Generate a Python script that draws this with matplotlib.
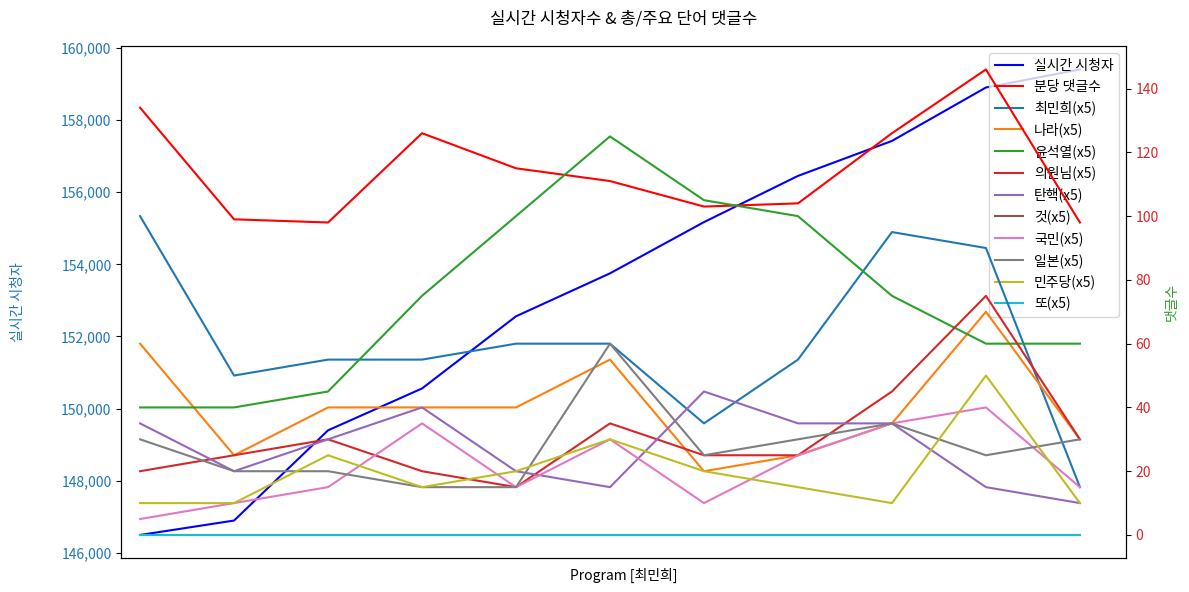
#!/usr/bin/env python3
import matplotlib
matplotlib.use("Agg")
import matplotlib.pyplot as plt
import matplotlib.ticker as mticker

plt.rcParams["font.family"] = ["Noto Sans CJK KR", "DejaVu Sans"]
plt.rcParams["axes.unicode_minus"] = False

# minute index (x ticks are hidden in the original)
minutes = list(range(11))

viewers = [146500, 146900, 149400, 150560, 152560, 153750, 155170, 156450, 157420, 158900, 159400]
comments_per_min = [134, 99, 98, 126, 115, 111, 103, 104, 126, 146, 98]

# keyword counts, already multiplied by 5
keywords = {
    "최민희": [100, 50, 55, 55, 60, 60, 35, 55, 95, 90, 15],
    "나라": [60, 25, 40, 40, 40, 55, 20, 25, 35, 70, 30],
    "윤석열": [40, 40, 45, 75, 100, 125, 105, 100, 75, 60, 60],
    "의원님": [20, 25, 30, 20, 15, 35, 25, 25, 45, 75, 30],
    "탄핵": [35, 20, 30, 40, 20, 15, 45, 35, 35, 15, 10],
    "것": [0, 0, 0, 0, 0, 0, 0, 0, 0, 0, 0],
    "국민": [5, 10, 15, 35, 15, 30, 10, 25, 35, 40, 15],
    "일본": [30, 20, 20, 15, 15, 60, 25, 30, 35, 25, 30],
    "민주당": [10, 10, 25, 15, 20, 30, 20, 15, 10, 50, 10],
    "또": [0, 0, 0, 0, 0, 0, 0, 0, 0, 0, 0],
}
keyword_colors = ["tab:blue", "tab:orange", "tab:green", "tab:red", "tab:purple",
                  "tab:brown", "tab:pink", "tab:gray", "tab:olive", "tab:cyan"]


def main():
    fig, ax1 = plt.subplots(figsize=(11.89, 5.92), dpi=100)
    ax2 = ax1.twinx()

    ax1.plot(minutes, viewers, color="blue", label="실시간 시청자")
    ax2.plot(minutes, comments_per_min, color="red", label="분당 댓글수")
    for (word, counts), c in zip(keywords.items(), keyword_colors):
        ax2.plot(minutes, counts, color=c, label=f"{word}(x5)")

    ax1.set_xlim(-0.2, 10.49)
    ax1.set_xticks([])
    ax1.set_xlabel("Program [최민희]", labelpad=7)

    ax1.set_ylabel("실시간 시청자", color="tab:blue", labelpad=26)
    ax1.tick_params(axis="y", labelcolor="tab:blue")
    ax1.yaxis.set_major_formatter(mticker.StrMethodFormatter("{x:,.0f}"))

    ax2.set_ylabel("댓글수", color="tab:green")
    ax2.tick_params(axis="y", labelcolor="tab:red")

    ax1.set_title("실시간 시청자수 & 총/주요 단어 댓글수", pad=16)

    lines = ax1.get_lines() + ax2.get_lines()
    ax1.legend(lines, [l.get_label() for l in lines], loc="upper right")

    fig.subplots_adjust(left=0.102, right=0.947, top=0.922, bottom=0.057)
    fig.savefig("out.png", dpi=100)
    plt.close(fig)


if __name__ == "__main__":
    main()
